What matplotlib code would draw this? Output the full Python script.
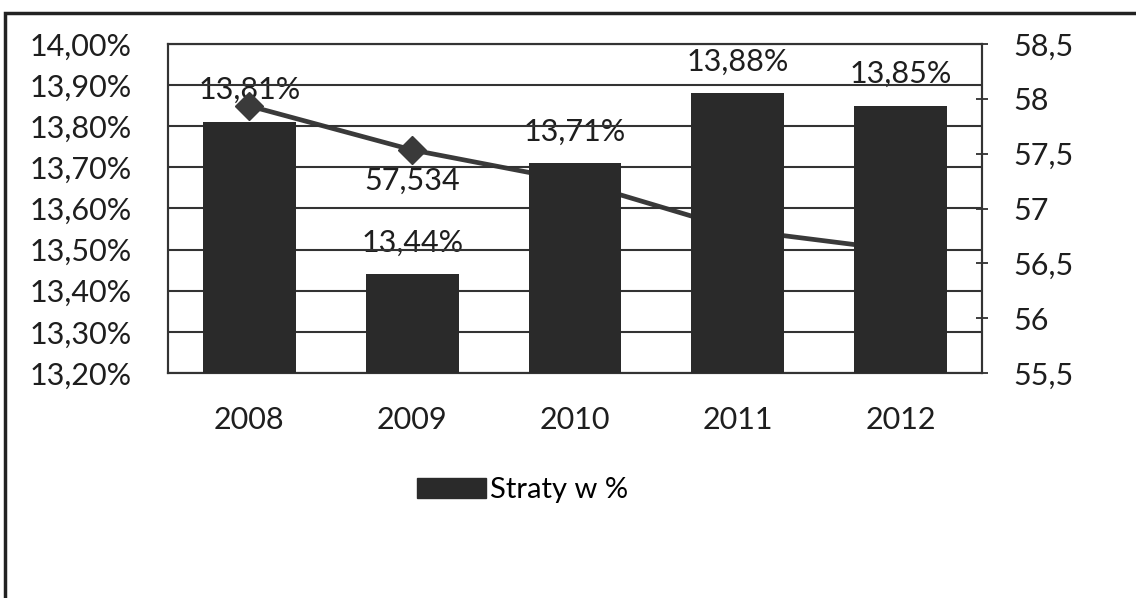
import matplotlib
matplotlib.use('Agg')
import matplotlib.pyplot as plt
from matplotlib.patches import Patch, Rectangle
from matplotlib.ticker import FuncFormatter, MultipleLocator

plt.rcParams['font.family'] = ['Lato', 'DejaVu Sans']
plt.rcParams['font.size'] = 22

# dane
years = ['2008', '2009', '2010', '2011', '2012']
straty_proc = [13.81, 13.44, 13.71, 13.88, 13.85]     # słupki, lewa oś (%)
linia_wart = [57.935, 57.534, 57.248, 56.805, 56.618]  # linia, prawa oś

fig = plt.figure(figsize=(11.36, 5.98), dpi=100)
fig.patch.set_facecolor('white')

# ramka całego wykresu (widoczna tylko z lewej i u góry)
fig.add_artist(Rectangle((5 / 1136, -0.1), 1.2, 1 - 13 / 598 + 0.1,
                         transform=fig.transFigure, fill=False,
                         lw=2.5, ec='#222222'))

left, right = 168 / 1136, 982 / 1136
bottom, top = 1 - 373 / 598, 1 - 44 / 598
ax = fig.add_axes([left, bottom, right - left, top - bottom])   # linia (pod spodem)
axb = ax.twinx()                                                  # słupki (na wierzchu)

x = list(range(len(years)))
dark = '#2a2a2a'
txt = '#1e1e1e'
fs = 22

# linia na prawej osi
ax.plot(x, linia_wart, color='#3a3a3a', lw=3.4, marker='D', ms=14,
        mfc='#3a3a3a', mec='#3a3a3a', zorder=2)
for xi, v in zip(x, linia_wart):
    ax.annotate(f'{v:.3f}'.replace('.', ','), (xi, v), textcoords='offset points',
                xytext=(0, -22), ha='center', va='center', color=txt,
                fontsize=fs, zorder=1)

# etykiety słupków (pod znacznikami linii)
for xi, v in zip(x, straty_proc):
    ax.annotate(f'{v:.2f}%'.replace('.', ','), (xi, v), xycoords=axb.transData,
                textcoords='offset points', xytext=(0, 23), ha='center',
                va='center', color=txt, fontsize=fs, zorder=1,
                annotation_clip=False)

ax.set_ylim(55.5, 58.5)
ax.yaxis.set_major_locator(MultipleLocator(0.5))
ax.yaxis.tick_right()
ax.yaxis.set_major_formatter(FuncFormatter(lambda v, p: ('%g' % v).replace('.', ',')))
ax.tick_params(axis='y', direction='inout', length=9, width=1.2, pad=18,
               colors=txt, labelsize=fs)

# słupki na lewej osi
axb.bar(x, straty_proc, width=0.57, color=dark, zorder=3, label='Straty w %')
axb.set_ylim(13.2, 14.0)
axb.yaxis.set_major_locator(MultipleLocator(0.1))
axb.yaxis.tick_left()
axb.yaxis.set_major_formatter(FuncFormatter(lambda v, p: f'{v:.2f}%'.replace('.', ',')))
axb.tick_params(axis='y', length=0, pad=26, colors=txt, labelsize=fs)
axb.grid(axis='y', color='#333333', lw=1.5)
axb.set_axisbelow(True)
axb.set_xlim(-0.5, 4.5)
ax.set_xlim(-0.5, 4.5)

ax.set_xticks(x)
ax.set_xticklabels(years)
ax.tick_params(axis='x', length=0, pad=24, colors=txt, labelsize=fs)
axb.tick_params(axis='x', length=0)

for a in (ax, axb):
    for s in a.spines.values():
        s.set_color('#333333')
        s.set_linewidth(1.5)

fig.legend(handles=[Patch(color=dark, label='Straty w %')], loc='center',
           bbox_to_anchor=(0.46, 0.18), frameon=False, fontsize=21,
           handlelength=2.35, handleheight=0.7, handletextpad=0.15)

fig.savefig('out.png', dpi=100)
